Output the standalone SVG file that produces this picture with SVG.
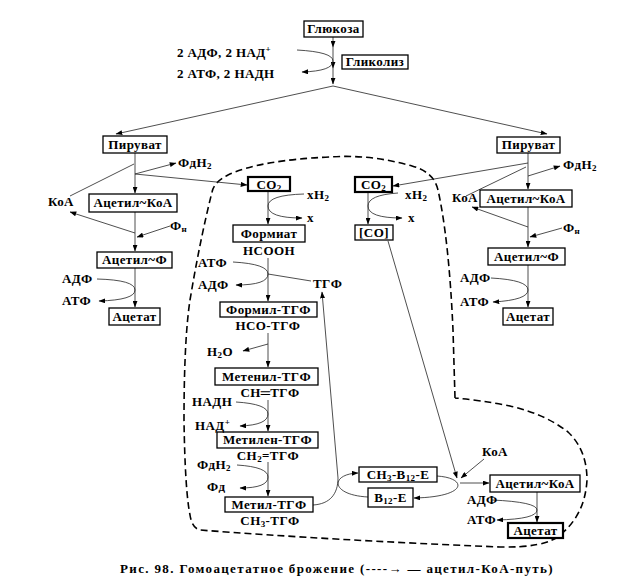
<svg xmlns="http://www.w3.org/2000/svg" width="618" height="578" viewBox="0 0 618 578">
<style>
.bg{fill:#fff}
.box{fill:#fff;stroke:#000;stroke-width:1.3}
.bb{stroke-width:2.2}
.t{font-family:"Liberation Serif","Times New Roman",serif;font-weight:bold;font-size:13px;fill:#000;letter-spacing:0.4px}
.c{text-anchor:middle}
.sub{font-size:9px}
.ln{fill:none;stroke:#222;stroke-width:0.8;marker-end:url(#ah)}
.pl{fill:none;stroke:#222;stroke-width:0.8}
.dash{fill:none;stroke:#000;stroke-width:1.6;stroke-dasharray:7 4}
</style>
<defs>
<marker id="ah" viewBox="0 0 8 6" refX="7.5" refY="3" markerWidth="7" markerHeight="5" markerUnits="userSpaceOnUse" orient="auto">
<path d="M0,0 L8,3 L0,6 z" fill="#000"/>
</marker>
</defs>
<rect class="bg" width="618" height="578"/>

<g id="boundary">
<path class="dash" d="M455,398 L453,330 Q449,240 438,190 Q434,172 412,166 Q370,154 330,157 Q260,160 228,175 Q214,182 212,192 Q200,240 190,300 Q184,340 184,420 Q185,490 190,515 Q192,528 200,530 Q330,540 500,547 Q545,548 560,535 Q585,515 587,480 Q587,450 568,432 Q545,414 510,406 Q480,400 455,398"/>
</g>

<g id="connectors">
<path class="ln" d="M333,37 L333,47"/>
<path class="ln" d="M333,47 L333,68"/>
<path class="ln" d="M333,68 L333,84"/>
<path class="ln" d="M297,50 Q333,52 333,61 Q333,71 302,72"/>
<path class="ln" d="M333,86 L116,134"/>
<path class="ln" d="M333,86 L547,134"/>

<path class="ln" d="M135,153 L135,193"/>
<path class="pl" d="M70,196 L134,164"/>
<path class="ln" d="M135,174 L176,163"/>
<path class="ln" d="M135,174 L247,185"/>
<path class="ln" d="M135,212 L135,251"/>
<path class="ln" d="M135,233 L70,212"/>
<path class="ln" d="M170,226 L137,237"/>
<path class="ln" d="M135,268 L135,307"/>
<path class="ln" d="M97,279 Q135,280 135,290 Q135,300 99,301"/>

<path class="ln" d="M528,153 L528,189"/>
<path class="pl" d="M466,196 L526,167"/>
<path class="ln" d="M528,176 L560,166"/>
<path class="ln" d="M528,163 L393,186"/>
<path class="ln" d="M528,207 L528,247"/>
<path class="ln" d="M528,227 L472,207"/>
<path class="ln" d="M562,228 L530,237"/>
<path class="ln" d="M528,265 L528,307"/>
<path class="ln" d="M491,278 Q528,280 528,290 Q528,300 493,302"/>

<path class="ln" d="M268,191 L268,224"/>
<path class="ln" d="M304,194 Q268,195 268,206 Q268,218 302,218"/>
<path class="ln" d="M268,258 L268,301"/>
<path class="ln" d="M233,262 Q268,264 268,274 Q268,285 236,285"/>
<path class="pl" d="M268,274 L311,281"/>
<path class="ln" d="M268,333 L268,367"/>
<path class="ln" d="M268,344 L243,351"/>
<path class="ln" d="M268,400 L268,431"/>
<path class="ln" d="M236,402 Q268,404 268,414 Q268,425 240,426"/>
<path class="ln" d="M268,462 L268,496"/>
<path class="ln" d="M237,465 Q268,467 268,477 Q268,488 240,488"/>
<path class="ln" d="M313,505 C330,504 338,494 338,478 L322,292"/>
<path class="ln" d="M368,497 C330,495 330,474 358,473"/>
<path class="ln" d="M437,476 C468,478 468,497 414,498"/>

<path class="ln" d="M368,192 L368,224"/>
<path class="ln" d="M398,193 Q368,195 368,206 Q368,218 402,218"/>
<path class="ln" d="M388,241 L457,478"/>
<path class="ln" d="M484,459 L461,478"/>
<path class="ln" d="M460,483 L489,483"/>
<path class="ln" d="M537,492 L537,522"/>
<path class="ln" d="M492,500 Q537,502 537,510 Q537,519 497,520"/>
</g>

<g id="glucose"><rect class="box" x="304" y="21" width="59" height="16"/><text class="t c" x="333.5" y="33">Глюкоза</text></g>
<g id="glycolysis"><rect class="box" x="342" y="55" width="66" height="14"/><text class="t c" x="375" y="66">Гликолиз</text></g>
<g id="pyruvate-left"><rect class="box" x="103" y="136" width="64" height="17"/><text class="t c" x="135" y="149">Пируват</text></g>
<g id="acetylcoa-left"><rect class="box" x="89" y="194" width="88" height="18"/><text class="t c" x="133" y="207">Ацетил~КоА</text></g>
<g id="acetylp-left"><rect class="box" x="97" y="252" width="75" height="16"/><text class="t c" x="134.5" y="264">Ацетил~Ф</text></g>
<g id="acetate-left"><rect class="box" x="109" y="308" width="51" height="17"/><text class="t c" x="134.5" y="321">Ацетат</text></g>
<g id="pyruvate-right"><rect class="box" x="497" y="137" width="63" height="16"/><text class="t c" x="528.5" y="149">Пируват</text></g>
<g id="acetylcoa-right"><rect class="box" x="480" y="190" width="92" height="17"/><text class="t c" x="526" y="203">Ацетил~КоА</text></g>
<g id="acetylp-right"><rect class="box" x="488" y="248" width="77" height="17"/><text class="t c" x="526.5" y="261">Ацетил~Ф</text></g>
<g id="acetate-right"><rect class="box" x="503" y="308" width="50" height="17"/><text class="t c" x="528" y="321">Ацетат</text></g>
<g id="co2-a"><rect class="box bb" x="248" y="177" width="42" height="14"/><text class="t c" x="269" y="189">CO<tspan class="sub" dy="2">2</tspan></text></g>
<g id="formate"><rect class="box" x="233" y="225" width="72" height="17"/><text class="t c" x="269" y="238">Формиат</text><text class="t c" x="269" y="255">HCOOH</text></g>
<g id="formyl-thf"><rect class="box" x="220" y="302" width="97" height="15"/><text class="t c" x="268.5" y="314">Формил-ТГФ</text><text class="t c" x="268" y="330">HCO-ТГФ</text></g>
<g id="methenyl-thf"><rect class="box" x="215" y="368" width="103" height="17"/><text class="t c" x="266.5" y="381">Метенил-ТГФ</text><text class="t c" x="270" y="397">CH═ТГФ</text></g>
<g id="methylene-thf"><rect class="box" x="217" y="432" width="101" height="16"/><text class="t c" x="267.5" y="444">Метилен-ТГФ</text><text class="t c" x="268" y="460">CH<tspan class="sub" dy="2">2</tspan><tspan dy="-2">=ТГФ</tspan></text></g>
<g id="methyl-thf"><rect class="box" x="225" y="497" width="88" height="15"/><text class="t c" x="269" y="509">Метил-ТГФ</text><text class="t c" x="270" y="525">CH<tspan class="sub" dy="2">3</tspan><tspan dy="-2">-ТГФ</tspan></text></g>
<g id="co2-b"><rect class="box bb" x="355" y="177" width="37" height="15"/><text class="t c" x="373.5" y="189">CO<tspan class="sub" dy="2">2</tspan></text></g>
<g id="co"><rect class="box" x="355" y="225" width="38" height="15"/><text class="t c" x="374" y="237">[CO]</text></g>
<g id="ch3-b12-e"><rect class="box" x="359" y="467" width="78" height="15"/><text class="t c" x="398" y="479">CH<tspan class="sub" dy="2">3</tspan><tspan dy="-2">-B</tspan><tspan class="sub" dy="2">12</tspan><tspan dy="-2">-E</tspan></text></g>
<g id="b12-e"><rect class="box" x="368" y="488" width="45" height="19"/><text class="t c" x="390.5" y="502">B<tspan class="sub" dy="2">12</tspan><tspan dy="-2">-E</tspan></text></g>
<g id="acetylcoa-bottom"><rect class="box" x="490" y="475" width="90" height="17"/><text class="t c" x="535" y="488">Ацетил~КоА</text></g>
<g id="acetate-bottom"><rect class="box bb" x="508" y="523" width="55" height="15"/><text class="t c" x="535.5" y="535">Ацетат</text></g>

<g id="labels">
<text class="t" x="177" y="57">2 АДФ, 2 НАД<tspan class="sub" dy="-5">+</tspan></text>
<text class="t" x="177" y="78">2 АТФ, 2 НАДН</text>
<text class="t" x="178" y="167">ФдН<tspan class="sub" dy="2">2</tspan></text>
<text class="t" x="48" y="206">КоА</text>
<text class="t" x="170" y="230">Ф<tspan class="sub" dy="2">н</tspan></text>
<text class="t" x="62" y="283">АДФ</text>
<text class="t" x="62" y="305">АТФ</text>
<text class="t" x="563" y="169">ФдН<tspan class="sub" dy="2">2</tspan></text>
<text class="t" x="452" y="202">КоА</text>
<text class="t" x="563" y="232">Ф<tspan class="sub" dy="2">н</tspan></text>
<text class="t" x="460" y="282">АДФ</text>
<text class="t" x="460" y="306">АТФ</text>
<text class="t" x="307" y="199">xH<tspan class="sub" dy="2">2</tspan></text>
<text class="t" x="307" y="222">x</text>
<text class="t" x="405" y="199">xH<tspan class="sub" dy="2">2</tspan></text>
<text class="t" x="408" y="222">x</text>
<text class="t" x="198" y="267">АТФ</text>
<text class="t" x="198" y="289">АДФ</text>
<text class="t" x="313" y="288">ТГФ</text>
<text class="t" x="207" y="356">H<tspan class="sub" dy="2">2</tspan><tspan dy="-2">O</tspan></text>
<text class="t" x="192" y="406">НАДН</text>
<text class="t" x="195" y="430">НАД<tspan class="sub" dy="-5">+</tspan></text>
<text class="t" x="197" y="469">ФдН<tspan class="sub" dy="2">2</tspan></text>
<text class="t" x="207" y="491">Фд</text>
<text class="t" x="482" y="456">КоА</text>
<text class="t" x="467" y="504">АДФ</text>
<text class="t" x="467" y="524">АТФ</text>
<text class="t" x="120" y="573" textLength="433" lengthAdjust="spacing">Рис. 98. Гомоацетатное брожение (----→ — ацетил-КоА-путь)</text>
</g>
</svg>
